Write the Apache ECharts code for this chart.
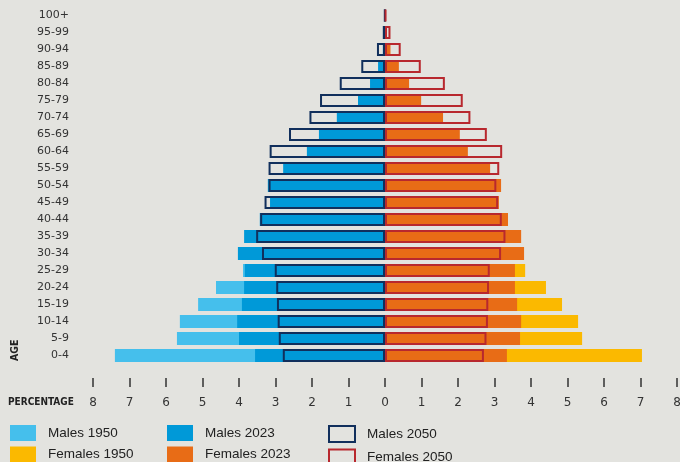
<!DOCTYPE html>
<html>
<head>
<meta charset="utf-8">
<script src="https://cdn.jsdelivr.net/npm/echarts@6/dist/echarts.min.js"></script>
<style>
  html, body { margin: 0; padding: 0; background: #e3e3df; }
  #chart { width: 680px; height: 462px; }
</style>
</head>
<body>
<div id="chart"></div>
<script>
// age groups, bottom to top
const ages = ['0-4', '5-9', '10-14', '15-19', '20-24', '25-29', '30-34', '35-39', '40-44', '45-49',
  '50-54', '55-59', '60-64', '65-69', '70-74', '75-79', '80-84', '85-89', '90-94', '95-99', '100+']

// share of total population, %
const males1950 = [7.40, 5.70, 5.62, 5.12, 4.63, 3.89, 3.5, 3.2, 2.8, 2.5, 2.1, 1.8, 1.4, 1.0, 0.7, 0.4, 0.2, 0.06, 0.02, 0, 0]
const males2023 = [3.56, 4.00, 4.05, 3.92, 3.86, 3.84, 4.03, 3.86, 3.43, 3.15, 3.21, 2.79, 2.14, 1.81, 1.32, 0.74, 0.41, 0.19, 0.06, 0.02, 0.005]
const males2050 = [2.80, 2.91, 2.94, 2.96, 2.98, 3.02, 3.37, 3.53, 3.42, 3.30, 3.19, 3.19, 3.16, 2.63, 2.07, 1.78, 1.24, 0.65, 0.22, 0.06, 0.01]
const females1950 = [7.04, 5.40, 5.29, 4.85, 4.41, 3.84, 3.4, 3.1, 2.8, 2.5, 2.2, 1.8, 1.5, 1.1, 0.8, 0.5, 0.25, 0.1, 0.03, 0.01, 0]
const females2023 = [3.34, 3.70, 3.73, 3.62, 3.56, 3.56, 3.81, 3.73, 3.37, 3.12, 3.18, 2.88, 2.27, 2.05, 1.59, 0.99, 0.66, 0.38, 0.15, 0.03, 0.005]
const females2050 = [2.71, 2.78, 2.82, 2.83, 2.85, 2.87, 3.18, 3.30, 3.20, 3.10, 3.05, 3.13, 3.21, 2.79, 2.34, 2.13, 1.64, 0.98, 0.43, 0.15, 0.03]

const xTicks = [-8, 8]

const COL = {
  m1950: '#45bfec',
  m2023: '#0099d8',
  m2050: '#112f5c',
  f1950: '#fbb900',
  f2023: '#e86c16',
  f2050: '#b8282e'
}

const chart = echarts.init(document.getElementById('chart'))

const neg = arr => arr.map(v => -v)

function filledBar(name, data, color) {
  return {
    name,
    type: 'bar',
    data,
    barWidth: 13,
    barGap: '-100%',
    itemStyle: { color },
    silent: true
  }
}

function outlineBar(name, data, color) {
  return {
    name,
    type: 'bar',
    data,
    barWidth: 13,
    barGap: '-100%',
    itemStyle: { color: 'transparent', borderColor: color, borderWidth: 2 },
    silent: true
  }
}

const legendText = { fontFamily: 'Liberation Sans', fontSize: 13.5, color: '#222', padding: [0, 0, 0, 7] }

function legendCol(left, items) {
  return {
    orient: 'vertical',
    left,
    top: 425,
    height: 80,
    padding: 0,
    itemWidth: 26,
    itemHeight: 16,
    itemGap: 5.5,
    selectedMode: false,
    textStyle: legendText,
    data: items
  }
}

chart.setOption({
  backgroundColor: '#e3e3df',
  animation: false,
  grid: { left: 93, right: 3, top: 7, bottom: 98, outerBoundsMode: 'none' },
  xAxis: {
    type: 'value',
    min: xTicks[0],
    max: xTicks[1],
    interval: 1,
    offset: 14,
    axisLine: { show: false },
    axisTick: { show: true, length: 9, lineStyle: { color: '#333', width: 1.5 } },
    splitLine: { show: false },
    axisLabel: {
      margin: 19,
      color: '#333',
      fontSize: 12,
      fontFamily: 'DejaVu Sans',
      formatter: v => String(Math.abs(v))
    }
  },
  yAxis: {
    type: 'category',
    data: ages,
    axisLine: { show: false, onZero: false },
    axisTick: { show: false },
    axisLabel: { margin: 24, color: '#333', fontSize: 11, fontFamily: 'DejaVu Sans' }
  },
  legend: [
    legendCol(10, [
      { name: 'Males 1950', icon: 'rect' },
      { name: 'Females 1950', icon: 'rect' }
    ]),
    legendCol(167, [
      { name: 'Males 2023', icon: 'rect' },
      { name: 'Females 2023', icon: 'rect' }
    ]),
    legendCol(328, [
      { name: 'Males 2050', icon: 'rect', itemStyle: { color: 'transparent', borderColor: COL.m2050, borderWidth: 2 } },
      { name: 'Females 2050', icon: 'rect', itemStyle: { color: 'transparent', borderColor: COL.f2050, borderWidth: 2 } }
    ])
  ],
  graphic: [
    {
      type: 'text', left: 8, top: 397,
      style: { text: 'PERCENTAGE', fontFamily: 'DejaVu Sans Condensed', fontWeight: 'bold', fontSize: 10, fill: '#222' }
    },
    {
      type: 'text', x: 10, y: 361, rotation: Math.PI / 2,
      style: { text: 'AGE', fontFamily: 'DejaVu Sans Condensed', fontWeight: 'bold', fontSize: 10.5, fill: '#222' }
    }
  ],
  series: [
    filledBar('Males 1950', neg(males1950), COL.m1950),
    filledBar('Females 1950', females1950, COL.f1950),
    filledBar('Males 2023', neg(males2023), COL.m2023),
    filledBar('Females 2023', females2023, COL.f2023),
    outlineBar('Males 2050', neg(males2050), COL.m2050),
    outlineBar('Females 2050', females2050, COL.f2050)
  ]
})
</script>
</body>
</html>
